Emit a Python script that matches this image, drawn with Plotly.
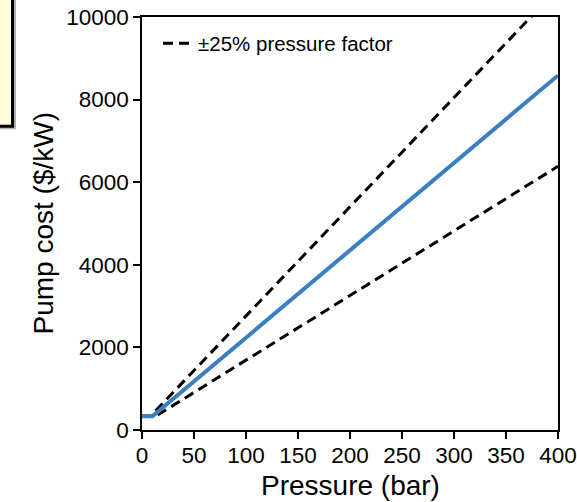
import plotly.graph_objects as go

# Data
pressure_base = [0, 10, 400]
cost_base = [330, 330, 8585]

pressure_upper = [0, 8, 400]
cost_upper = [330, 330, 10690]

pressure_lower = [0, 13, 400]
cost_lower = [330, 330, 6385]

x_ticks = [0, 50, 100, 150, 200, 250, 300, 350, 400]
y_ticks = [0, 2000, 4000, 6000, 8000, 10000]
y_tick_labels = ["0", "2000", "4000", "6000", "8000", "10000"]

FONT = "Liberation Sans, Arial, Helvetica, sans-serif"
W, H = 577, 502
L, R, T, B = 142, 19, 16.5, 72
pw, ph = W - L - R, H - T - B

def px_x(x):
    return (x - L) / pw

def px_y(y):
    return (H - B - y) / ph

fig = go.Figure()
fig.add_trace(go.Scatter(x=pressure_upper, y=cost_upper, mode="lines",
                         line=dict(color="black", width=3, dash="10px,6px"),
                         name="±25% pressure factor", showlegend=True))
fig.add_trace(go.Scatter(x=pressure_lower, y=cost_lower, mode="lines",
                         line=dict(color="black", width=3, dash="10px,6px"),
                         showlegend=False))
fig.add_trace(go.Scatter(x=pressure_base, y=cost_base, mode="lines",
                         line=dict(color="#3a7fc1", width=4),
                         showlegend=False))

axis_common = dict(showline=True, linecolor="black", linewidth=1.5, mirror=True,
                   ticks="outside", ticklen=7, tickwidth=1.5, tickcolor="black",
                   showgrid=False, zeroline=False, automargin=False,
                   tickfont=dict(family=FONT, size=22.5, color="black"))

fig.update_xaxes(range=[0, 400], tickvals=x_ticks, ticklabelstandoff=-3,
                 **axis_common)
fig.update_yaxes(range=[0, 10000], tickvals=y_ticks, ticktext=y_tick_labels,
                 **axis_common)

fig.add_annotation(text="Pressure (bar)", xref="paper", yref="paper",
                   x=px_x(350), y=px_y(486), showarrow=False,
                   xanchor="center", yanchor="middle",
                   font=dict(family=FONT, size=28, color="black"))
fig.add_annotation(text="Pump cost ($/kW)", xref="paper", yref="paper",
                   x=px_x(43), y=0.5, textangle=-90, showarrow=False,
                   xanchor="center", yanchor="middle",
                   font=dict(family=FONT, size=28, color="black"))

# partially visible yellow note box (clipped at figure edge)
fig.add_shape(type="rect", xref="paper", yref="paper",
              x0=px_x(-20), x1=px_x(16), y0=px_y(129), y1=px_y(-20),
              fillcolor="#b0b0b0", line=dict(width=0), layer="above")
fig.add_shape(type="rect", xref="paper", yref="paper",
              x0=px_x(-20), x1=px_x(12.5), y0=px_y(126), y1=px_y(-20),
              fillcolor="#fffbdb", line=dict(color="black", width=3), layer="above")

fig.update_layout(
    width=W, height=H,
    margin=dict(l=L, r=R, t=T, b=B),
    paper_bgcolor="white", plot_bgcolor="white",
    font=dict(family=FONT, color="black"),
    showlegend=True,
    legend=dict(x=px_x(158), y=px_y(23), xanchor="left", yanchor="top",
                bgcolor="rgba(0,0,0,0)", borderwidth=0,
                font=dict(family=FONT, size=20.5, color="black")),
)

fig.write_html("out.html")
